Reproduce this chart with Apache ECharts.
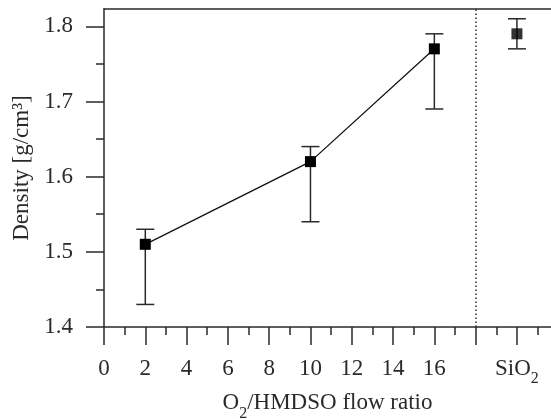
<!DOCTYPE html>
<html><head><meta charset="utf-8">
<script src="https://cdn.jsdelivr.net/npm/echarts@6/dist/echarts.min.js"></script>
<style>html,body{margin:0;padding:0;background:#fff}#chart{width:551px;height:419px}</style>
</head><body><div id="chart"></div>
<script>
// Film density versus O2/HMDSO flow ratio, with a thermal SiO2 reference
const flowRatio = [2, 10, 16];
const density = [1.51, 1.62, 1.77];
const densityLow = [1.43, 1.54, 1.69];
const densityHigh = [1.53, 1.64, 1.79];
const sio2Position = [20];
const sio2Density = [1.79];
const sio2Low = [1.77];
const sio2High = [1.81];
const xTickValues = [0, 2, 4, 6, 8, 10, 12, 14, 16, 18, 20];
const xLabelValues = [0, 2, 4, 6, 8, 10, 12, 14, 16, 20];
const yTickValues = [1.4, 1.5, 1.6, 1.7, 1.8];
const dividerAt = [18];

const FONT = '"Liberation Serif", "Times New Roman", serif';
const INK = '#2a2a2a';
const X_MIN = 0, X_MAX = 21.65, Y_MIN = 1.4, Y_MAX = 1.823;

const points = flowRatio.map((x, i) => [x, density[i]]);
const refPoints = sio2Position.map((x, i) => [x, sio2Density[i]]);
const errorBars = flowRatio.map((x, i) => [x, densityLow[i], densityHigh[i]])
  .concat(sio2Position.map((x, i) => [x, sio2Low[i], sio2High[i]]));

const rich = {
  n: { fontFamily: FONT, fontSize: 23, color: INK, lineHeight: 26, verticalAlign: 'top' },
  s: { fontFamily: FONT, fontSize: 16, color: INK, verticalAlign: 'top', padding: [14, 0, 0, 0] }
};

function renderErrorBar(params, api) {
  const x = api.value(0);
  const lo = api.coord([x, api.value(1)]);
  const hi = api.coord([x, api.value(2)]);
  const half = 9;
  const style = { stroke: INK, lineWidth: 1.5, fill: null };
  return {
    type: 'group',
    children: [
      { type: 'line', shape: { x1: lo[0], y1: lo[1], x2: hi[0], y2: hi[1] }, style },
      { type: 'line', shape: { x1: lo[0] - half, y1: lo[1], x2: lo[0] + half, y2: lo[1] }, style },
      { type: 'line', shape: { x1: hi[0] - half, y1: hi[1], x2: hi[0] + half, y2: hi[1] }, style }
    ]
  };
}

const chart = echarts.init(document.getElementById('chart'), null, { renderer: 'canvas' });
chart.setOption({
  animation: false,
  backgroundColor: '#fff',
  grid: { left: 104, top: 9, right: 0, bottom: 92, containLabel: false, outerBoundsMode: 'none' },
  xAxis: [{
    type: 'value', min: X_MIN, max: X_MAX, interval: 2,
    axisLine: { lineStyle: { color: INK, width: 1.5 } },
    axisTick: { customValues: xTickValues, length: 18, lineStyle: { color: INK, width: 1.5 } },
    minorTick: { show: true, splitNumber: 2, length: 8, lineStyle: { color: INK, width: 1.5 } },
    axisLabel: {
      customValues: xLabelValues, margin: 30,
      formatter: v => v === sio2Position[0] ? '{n|SiO}{s|2}' : '{n|' + v + '}',
      rich
    },
    splitLine: { show: false },
    name: '{n|O}{s|2}{n|/HMDSO flow ratio}',
    nameLocation: 'middle', nameGap: 56,
    nameTextStyle: { rich }
  }, {
    type: 'value', position: 'top', min: X_MIN, max: X_MAX, interval: 2,
    axisLine: { show: true, lineStyle: { color: INK, width: 1.5 } },
    axisTick: { show: false }, axisLabel: { show: false }, splitLine: { show: false }
  }],
  yAxis: {
    type: 'value', min: Y_MIN, max: Y_MAX, interval: 0.1,
    axisLine: { show: true, lineStyle: { color: INK, width: 1.5 } },
    axisTick: { customValues: yTickValues, length: 18, lineStyle: { color: INK, width: 1.5 } },
    minorTick: { show: true, splitNumber: 2, length: 8, lineStyle: { color: INK, width: 1.5 } },
    axisLabel: {
      customValues: yTickValues, margin: 31,
      fontFamily: FONT, fontSize: 23, color: INK,
      formatter: v => v.toFixed(1)
    },
    splitLine: { show: false },
    name: 'Density [g/cm³]',
    nameLocation: 'middle', nameGap: 71,
    nameTextStyle: { fontFamily: FONT, fontSize: 23, color: INK }
  },
  series: [{
    type: 'custom',
    renderItem: renderErrorBar,
    data: errorBars,
    z: 1,
    silent: true
  }, {
    type: 'line',
    data: points,
    symbol: 'rect', symbolSize: 11,
    itemStyle: { color: '#000' },
    lineStyle: { color: '#111', width: 1.3 },
    z: 3,
    markLine: {
      silent: true, symbol: 'none',
      label: { show: false },
      lineStyle: { type: [1.5, 2.5], color: INK, width: 1.5 },
      data: dividerAt.map(v => ({ xAxis: v }))
    }
  }, {
    type: 'scatter',
    data: refPoints,
    symbol: 'rect', symbolSize: 11,
    itemStyle: { color: '#000' },
    z: 3
  }]
});
</script>
</body></html>
